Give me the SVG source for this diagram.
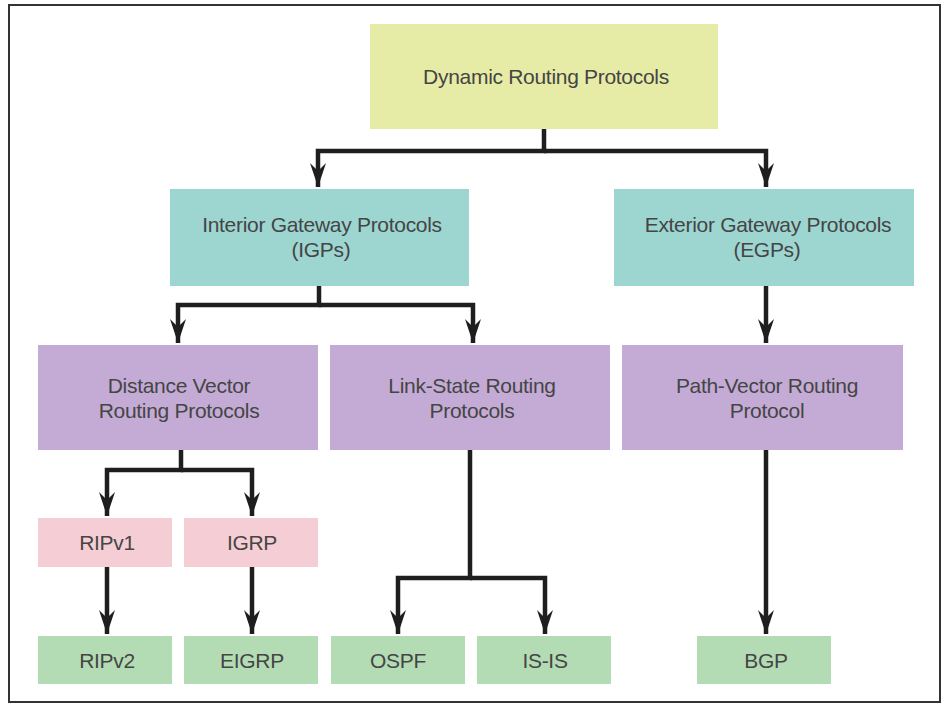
<svg xmlns="http://www.w3.org/2000/svg" width="944" height="707" viewBox="0 0 944 707">
<defs>
<style>
.t{font-family:"Liberation Sans",Arial,sans-serif;font-size:21px;fill:#454545;text-anchor:middle;letter-spacing:-0.3px}
.c{fill:none;stroke:#1e1e1e;stroke-width:4.5;stroke-linejoin:miter}
.y{fill:#e6eca6}.b{fill:#9dd6d1}.p{fill:#c4abd5}.k{fill:#f5ced5}.g{fill:#b4dcb4}
</style>
<marker id="a" markerUnits="userSpaceOnUse" viewBox="-12 -8 24 16" refX="12" refY="0" markerWidth="24" markerHeight="16" orient="auto">
<path d="M-12,-8 L12,0 L-12,8 L-4,0 Z" fill="#1e1e1e"/>
</marker>
</defs>
<rect x="0" y="0" width="944" height="707" fill="#ffffff"/>
<rect x="9" y="5" width="931" height="697" fill="#ffffff" stroke="#333" stroke-width="2"/>
<g id="connectors">
<path class="c" d="M544,129 V151 H318 V187" marker-end="url(#a)"/>
<path class="c" d="M544,151 H766 V187" marker-end="url(#a)"/>
<path class="c" d="M319,286 V305 H178 V343" marker-end="url(#a)"/>
<path class="c" d="M319,305 H473 V343" marker-end="url(#a)"/>
<path class="c" d="M766,286 V343" marker-end="url(#a)"/>
<path class="c" d="M181,450 V470 H107 V516" marker-end="url(#a)"/>
<path class="c" d="M181,470 H252 V516" marker-end="url(#a)"/>
<path class="c" d="M107,567 V634" marker-end="url(#a)"/>
<path class="c" d="M252,567 V634" marker-end="url(#a)"/>
<path class="c" d="M470,450 V578 H398 V634" marker-end="url(#a)"/>
<path class="c" d="M470,578 H545 V634" marker-end="url(#a)"/>
<path class="c" d="M766,450 V634" marker-end="url(#a)"/>
</g>
<g id="n-dynamic"><rect class="y" x="370" y="24" width="348" height="105"/><text class="t" x="546" y="84">Dynamic Routing Protocols</text></g>
<g id="n-igp"><rect class="b" x="170" y="189" width="299" height="97"/><text class="t" x="322" y="232">Interior Gateway Protocols</text><text class="t" x="321" y="257">(IGPs)</text></g>
<g id="n-egp"><rect class="b" x="614" y="189" width="300" height="97"/><text class="t" x="768" y="232">Exterior Gateway Protocols</text><text class="t" x="767" y="257">(EGPs)</text></g>
<g id="n-dv"><rect class="p" x="38" y="345" width="280" height="105"/><text class="t" x="179" y="393">Distance Vector</text><text class="t" x="179" y="418">Routing Protocols</text></g>
<g id="n-ls"><rect class="p" x="330" y="345" width="280" height="105"/><text class="t" x="472" y="393">Link-State Routing</text><text class="t" x="472" y="418">Protocols</text></g>
<g id="n-pv"><rect class="p" x="622" y="345" width="281" height="105"/><text class="t" x="767" y="393">Path-Vector Routing</text><text class="t" x="767" y="418">Protocol</text></g>
<g id="n-ripv1"><rect class="k" x="38" y="518" width="134" height="49"/><text class="t" x="107" y="550">RIPv1</text></g>
<g id="n-igrp"><rect class="k" x="184" y="518" width="134" height="49"/><text class="t" x="252" y="550">IGRP</text></g>
<g id="n-ripv2"><rect class="g" x="38" y="636" width="134" height="48"/><text class="t" x="107" y="668">RIPv2</text></g>
<g id="n-eigrp"><rect class="g" x="184" y="636" width="134" height="48"/><text class="t" x="252" y="668">EIGRP</text></g>
<g id="n-ospf"><rect class="g" x="331" y="636" width="134" height="48"/><text class="t" x="398" y="668">OSPF</text></g>
<g id="n-isis"><rect class="g" x="477" y="636" width="134" height="48"/><text class="t" x="545" y="668">IS-IS</text></g>
<g id="n-bgp"><rect class="g" x="697" y="636" width="134" height="48"/><text class="t" x="766" y="668">BGP</text></g>
</svg>
